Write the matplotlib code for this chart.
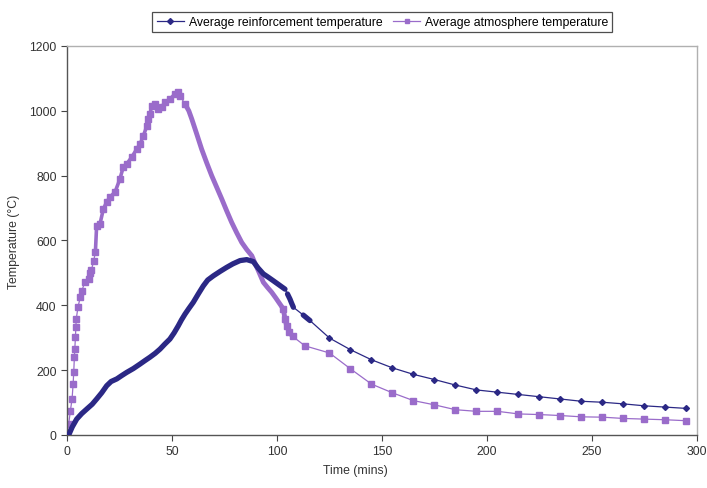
import numpy as np
import matplotlib.pyplot as plt

plt.rcParams['font.family'] = ['Liberation Sans', 'DejaVu Sans']

# Average reinforcement temperature (logger readings, then 10-minute readings)
reinf_time = [0.8, 2.5, 4.6, 7.0, 9.4, 12.0, 14.1, 16.5, 18.9, 21.0, 23.7, 26.0, 28.4,
              31.6, 34.8, 37.0, 39.5, 42.0, 44.3, 46.5, 49.0, 51.0, 53.0, 54.5, 56.2,
              58.0, 60.1, 62.5, 64.9, 67.0, 69.7, 73.0, 76.0, 79.0, 82.4, 85.6, 88.7,
              91.0, 93.5, 96.0, 98.2, 101.0, 103.8, 105.0, 106.2, 107.0, 107.8, 112.5,
              114.0, 115.7,
              125, 135, 145, 155, 165, 175, 185, 195, 205, 215, 225, 235, 245, 255,
              265, 275, 285, 295]
reinf_temp = [0, 25, 49, 66, 80, 95, 111, 130, 152, 165, 173, 183, 193,
              205, 219, 229, 240, 252, 265, 280, 296, 315, 337, 355, 373,
              390, 409, 435, 460, 478, 491, 505, 517, 528, 538, 541, 535,
              515, 497, 486, 476, 463, 450, 435, 419, 406, 394, 370,
              362, 353,
              299, 263, 232, 207, 187, 171, 154, 139, 132, 125, 118, 111, 104, 101,
              96, 90, 86, 82]

# Average atmosphere temperature
atmos_time = [0.0, 0.8, 1.6, 2.4, 2.9, 3.2, 3.5, 3.7, 4.0, 4.2, 4.4, 5.2, 6.3, 7.1,
              8.4, 10.3, 11.1, 11.6, 12.7, 13.5, 14.1, 15.7, 17.3, 18.9, 20.5, 22.9,
              25.2, 26.8, 28.4, 30.8, 33.2, 34.8, 36.3, 38.0, 38.7, 39.5, 40.3, 41.9,
              43.5, 45.1, 46.7, 49.0, 51.4, 53.0, 53.8,
              56.2, 58.0, 59.4, 61.8, 64.1, 66.5, 68.9, 71.3, 73.7, 76.0, 78.4, 80.8,
              83.2, 85.6, 88.0, 89.5, 91.1, 93.5, 95.5, 97.5, 99.5, 101.4, 103.0,
              103.8, 104.6, 105.9, 107.5,
              113.3, 125, 135, 145, 155, 165, 175, 185, 195, 205, 215, 225, 235,
              245, 255, 265, 275, 285, 295]
atmos_temp = [8, 34, 75, 111, 157, 194, 240, 265, 301, 332, 358, 394, 425, 445,
              471, 481, 500, 508, 538, 563, 645, 651, 697, 719, 734, 750,
              790, 827, 836, 857, 882, 898, 922, 953, 975, 990, 1015, 1021,
              1006, 1012, 1027, 1036, 1052, 1058, 1046,
              1021, 1000, 975, 928, 882, 840, 800, 764, 728, 692, 656, 624,
              594, 572, 553, 530, 507, 471, 455, 440, 422, 404, 389,
              358, 337, 317, 304,
              275, 253, 204, 157, 130, 106, 93, 78, 73, 73, 65, 63, 60,
              56, 55, 51, 49, 47, 44]

x_ticks = [0, 50, 100, 150, 200, 250, 300]
y_ticks = [0, 200, 400, 600, 800, 1000, 1200]

reinf_color = '#2b2885'
atmos_color = '#9a6cca'

reinf_time = np.array(reinf_time)
reinf_temp = np.array(reinf_temp)
atmos_time = np.array(atmos_time)
atmos_temp = np.array(atmos_temp)


def heavy(ax, t, y, lo, hi, color, lw, **kw):
    # densely logged stretch: the markers merge into a thick band
    m = (t >= lo) & (t <= hi)
    ax.plot(t[m], y[m], color=color, lw=lw, solid_capstyle='round', **kw)


fig = plt.figure(figsize=(7.07, 4.89), dpi=100)
ax = fig.add_axes([0.0948, 0.1084, 0.891, 0.7955])

# reinforcement: thin line through every reading, diamonds on the sparse ones,
# heavy band where logged densely
ax.plot(reinf_time, reinf_temp, color=reinf_color, lw=0.9, marker='D', ms=3.0,
        markevery=list(reinf_time > 116), zorder=3)
for lo, hi in [(0, 104), (104.9, 108), (112, 116)]:
    heavy(ax, reinf_time, reinf_temp, lo, hi, reinf_color, 3.8, zorder=3)

# atmosphere
ax.plot(atmos_time, atmos_temp, color=atmos_color, lw=0.9, marker='s', ms=3.8,
        mec=atmos_color, markevery=list((atmos_time < 57) | (atmos_time > 102)), zorder=2)
heavy(ax, atmos_time, atmos_temp, 13.5, 55, atmos_color, 2.6, zorder=2)
heavy(ax, atmos_time, atmos_temp, 56, 108, atmos_color, 3.5, zorder=2)

ax.set_xlim(0, 300)
ax.set_ylim(0, 1200)
ax.set_xticks(x_ticks)
ax.set_yticks(y_ticks)
ax.tick_params(direction='out', length=4, width=0.8, labelsize=8.8,
               colors='#444444', labelcolor='#333333')
for side in ['left', 'bottom']:
    ax.spines[side].set_color('#555555')
    ax.spines[side].set_linewidth(1.0)
for side in ['top', 'right']:
    ax.spines[side].set_color('#b0b0b0')
    ax.spines[side].set_linewidth(1.0)

ax.set_xlabel('Time (mins)', fontsize=8.8, color='#333333')
ax.xaxis.set_label_coords(0.457, -0.075)
ax.set_ylabel('Temperature (°C)', fontsize=8.8, color='#333333')
ax.yaxis.set_label_coords(-0.075, 0.5)

# legend handles
h1, = ax.plot([], [], color=reinf_color, lw=0.9, marker='D', ms=3.0)
h2, = ax.plot([], [], color=atmos_color, lw=0.9, marker='s', ms=3.5)
leg = fig.legend([h1, h2], ['Average reinforcement temperature', 'Average atmosphere temperature'],
                 loc='center', bbox_to_anchor=(0.541, 0.953), ncol=2, fontsize=8.8,
                 frameon=True, fancybox=False, handlelength=2.2, columnspacing=0.9,
                 handletextpad=0.4, borderpad=0.35)
leg.get_frame().set_edgecolor('#222222')
leg.get_frame().set_linewidth(0.9)

fig.savefig('out.png', dpi=100)
